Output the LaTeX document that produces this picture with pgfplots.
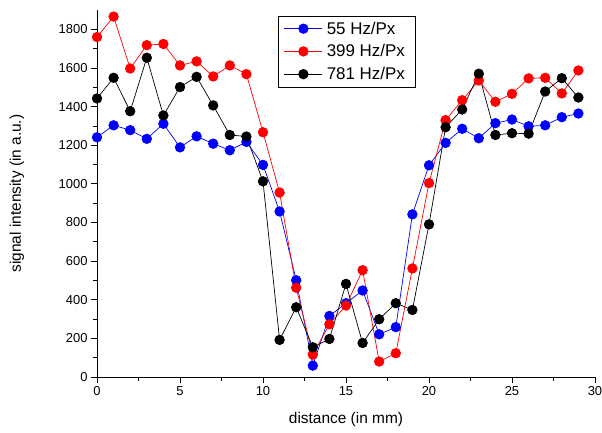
\documentclass[border=0pt]{standalone}
\usepackage{fontspec}
\setmainfont{Liberation Sans}
\usepackage{pgfplots}
\pgfplotsset{compat=1.18}
\begin{document}
\begin{tikzpicture}[x=1bp,y=1bp]
\begin{axis}[
  scale only axis, width=498bp, height=367bp,
  xmin=0, xmax=30, ymin=0, ymax=1900,
  axis x line=bottom, axis y line=left,
  axis line style={-, line width=0.8pt},
  xtick={0,5,...,30}, minor x tick num=1,
  ytick={0,200,...,1800}, minor y tick num=1,
  tick align=outside,
  major tick length=6bp, minor tick length=4bp,
  tick style={line width=0.7pt, black},
  /pgf/number format/assume math mode=true,
  /pgf/number format/1000 sep={},
  tick label style={font=\fontsize{13}{15}\selectfont},
  xlabel={distance (in mm)}, ylabel={signal intensity (in a.u.)},
  every axis y label/.style={at={(axis description cs:-0.161,0.5)}, rotate=90, anchor=center, font=\fontsize{15.5}{17}\selectfont},
  every axis x label/.style={at={(axis description cs:0.5,-0.117)}, anchor=center, font=\fontsize{15.5}{17}\selectfont},
  legend style={at={(0.363,0.985)}, anchor=north west, draw=black, line width=0.6pt,
    font=\fontsize{17}{19}\selectfont, row sep=5bp, inner xsep=6bp, inner ysep=4bp,
    nodes={inner xsep=4bp}},
  legend cell align=left,
  legend image code/.code={\draw[mark repeat=2,mark phase=2] plot coordinates {(0bp,0bp) (19bp,0bp) (38bp,0bp)};},
  every axis plot/.append style={line width=0.7pt, mark=*, mark size=4.8bp},
]
\addplot[blue, mark options={fill=blue, draw=blue}] coordinates {
(0,1241)(1,1303)(2,1278)(3,1233)(4,1311)(5,1189)(6,1246)(7,1208)(8,1174)(9,1217)
(10,1098)(11,857)(12,501)(13,59)(14,316)(15,382)(16,448)(17,221)(18,258)(19,842)
(20,1096)(21,1212)(22,1285)(23,1236)(24,1314)(25,1333)(26,1298)(27,1303)(28,1345)(29,1364)};
\addlegendentry{55 Hz/Px}
\addplot[red, mark options={fill=red, draw=red}] coordinates {
(0,1760)(1,1866)(2,1597)(3,1718)(4,1724)(5,1613)(6,1634)(7,1556)(8,1613)(9,1568)
(10,1267)(11,955)(12,462)(13,116)(14,273)(15,370)(16,553)(17,80)(18,123)(19,562)
(20,1004)(21,1330)(22,1433)(23,1535)(24,1425)(25,1466)(26,1546)(27,1549)(28,1468)(29,1587)};
\addlegendentry{399 Hz/Px}
\addplot[black, mark options={fill=black, draw=black}] coordinates {
(0,1442)(1,1549)(2,1376)(3,1653)(4,1354)(5,1501)(6,1554)(7,1406)(8,1253)(9,1245)
(10,1013)(11,192)(12,361)(13,154)(14,197)(15,482)(16,176)(17,299)(18,382)(19,347)
(20,790)(21,1293)(22,1385)(23,1570)(24,1253)(25,1262)(26,1260)(27,1478)(28,1547)(29,1447)};
\addlegendentry{781 Hz/Px}
\end{axis}
\pgfresetboundingbox
\path (-97bp,-56bp) rectangle (505bp,377bp);
\end{tikzpicture}
\end{document}
